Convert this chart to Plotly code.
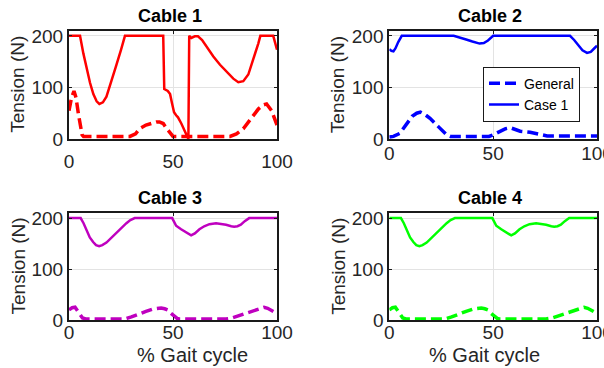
import plotly.graph_objects as go

# ---- data: cable tension (N) over % gait cycle ----
gait_ticks = [0, 50, 100]
tension_ticks = [0, 100, 200]

c1_case_x = [0, 5.3, 6.9, 8.5, 10.1, 11.7, 13.3, 14.6, 16.3, 18, 20, 22.5, 25, 26.9, 45.3, 45.8, 47.5,
             48.6, 49.5, 50.5, 51.5, 52.4, 54, 56, 57.4, 57.8, 58.8, 60.5, 62, 64, 66.2, 69.4, 72.6,
             75.8, 79, 81.4, 83.8, 86.2, 88.6, 91, 92, 98.2, 100]
c1_case_y = [200, 200, 166, 135, 109, 87, 73, 68, 71, 82, 106, 140, 173, 200, 200, 97, 93,
             87, 70, 52, 46, 42, 30, 12, 0, 200, 196, 199, 199, 192, 179, 160, 144,
             130, 117, 110, 112, 125, 154, 185, 200, 200, 173]
c1_gen_x = [0, 1.2, 2.4, 3.4, 4.5, 5.5, 6.3, 7, 29.3, 32, 34, 37, 40, 42, 43.5, 45.3, 47, 48.5, 50,
            77.4, 80.5, 83.8, 86, 88.6, 91, 93.4, 95, 97.4, 99, 100]
c1_gen_y = [55, 80, 93, 80, 49, 22, 8, 5, 5, 10, 20, 27, 31, 33, 33, 30, 20, 11, 5,
            5, 10, 20, 31, 46, 58, 66, 68, 55, 40, 27]

c2_case_x = [0, 1, 2, 3, 4.3, 6, 31, 34, 37, 40, 43.5, 45.5, 47.5, 50, 87, 89, 91, 93, 95.2, 97, 98.5, 100]
c2_case_y = [174, 171, 170, 176, 188, 200, 200, 197, 193, 189, 185, 186, 191, 200, 200, 192, 181, 172, 167, 169, 175, 181]
c2_gen_x = [0, 2, 5.1, 8.4, 11, 13.2, 15, 17, 19.6, 23.6, 27.7, 29.5, 48, 50.5, 53.4, 56, 58.2, 60.5,
            63, 67.8, 71, 74.3, 76, 100]
c2_gen_y = [4, 5, 11, 30, 44, 50, 52, 48, 40, 24, 8, 5, 5, 9, 15, 20, 22, 19,
            15, 13, 10, 7, 6, 6]

c3_case_x = [0, 5.6, 7, 8.5, 10, 11.6, 13, 14.5, 16, 18, 20.5, 22.8, 25, 27.6, 29.5, 31.6, 49.6, 50.5,
             51.5, 53.9, 56, 57.9, 58.7, 60.5, 62.7, 65, 67.5, 70.7, 73, 75.5, 78, 79.4, 81, 82.6,
             84.5, 86.6, 100]
c3_case_y = [200, 200, 190, 174, 162, 153, 147, 145, 147, 152, 162, 172, 181, 190, 196, 200, 200, 192,
             185, 178, 172, 167, 166, 170, 178, 184, 188, 190, 189, 187, 184, 183, 184, 187,
             194, 200, 200]
c3_gen_x = [0, 1.5, 2.9, 4.5, 5.5, 6.5, 8, 26.8, 30, 34, 37, 40.3, 44.3, 46, 47.5, 49, 50.7, 52, 53,
            75.5, 78.5, 81.8, 85, 88.2, 91, 93.8, 95.5, 97, 98.5, 100]
c3_gen_y = [20, 24, 25, 15, 8, 4, 2, 2, 6, 13, 17, 21.5, 23.5, 22, 19.6, 13, 6.5, 3, 2,
            2, 4, 8.5, 13, 18, 22, 25, 23, 19.6, 16, 13]

c4_case_x = list(c3_case_x)
c4_case_y = [200, 200, 190, 174, 162, 153, 147, 145, 147, 152, 162, 172, 181, 190, 196, 200, 200, 192,
             185, 178, 172, 167, 166, 170, 178, 184, 188, 190, 189, 187, 184, 183, 184, 187,
             194, 200, 200]
c4_gen_x = list(c3_gen_x)
c4_gen_y = [20, 24, 25, 15, 8, 4, 2, 2, 6, 13, 17, 21.5, 23.5, 22, 19.6, 13, 6.5, 3, 2,
            2, 4, 8.5, 13, 18, 22, 25, 23, 19.6, 16, 13]

cables = [
    ("Cable 1", "#FF0000", c1_gen_x, c1_gen_y, c1_case_x, c1_case_y),
    ("Cable 2", "#0000FF", c2_gen_x, c2_gen_y, c2_case_x, c2_case_y),
    ("Cable 3", "#BF00BF", c3_gen_x, c3_gen_y, c3_case_x, c3_case_y),
    ("Cable 4", "#00FF00", c4_gen_x, c4_gen_y, c4_case_x, c4_case_y),
]

W, H = 604, 368
FONT = "Liberation Sans, Arial, sans-serif"
INK = "#262626"

# plot-area boxes in pixels (left, right, top, bottom) and x tick-label standoff
boxes = [(69, 277, 30.7, 139), (389.3, 597, 30.7, 139),
         (69, 277, 213, 320), (389.3, 597, 213, 320)]
x_standoff = [4, -4, -6, -6]

fig = go.Figure()
layout = dict(template="none", width=W, height=H, margin=dict(l=0, r=0, t=0, b=0, pad=0),
              paper_bgcolor="white", plot_bgcolor="white",
              font=dict(family=FONT, color=INK), annotations=[])

for i, (name, color, gx, gy, cx, cy) in enumerate(cables):
    n = "" if i == 0 else str(i + 1)
    xa, ya = "x" + n, "y" + n
    fig.add_trace(go.Scatter(x=gx, y=gy, mode="lines", name="General",
                             line=dict(color=color, width=3.5, dash="11px,5px"),
                             xaxis=xa, yaxis=ya, showlegend=(i == 1)))
    fig.add_trace(go.Scatter(x=cx, y=cy, mode="lines", name="Case 1",
                             line=dict(color=color, width=2.5),
                             xaxis=xa, yaxis=ya, showlegend=(i == 1)))
    l, r, t, b = boxes[i]
    common = dict(showline=True, linecolor="#1a1a1a", linewidth=2, mirror="ticks",
                  ticks="inside", ticklen=3, tickcolor="#1a1a1a", automargin=False,
                  showgrid=True, gridcolor="#e3e3e3", gridwidth=1, zeroline=False,
                  ticklabeloverflow="allow",
                  tickfont=dict(size=19, color=INK, family=FONT))
    layout["xaxis" + n] = dict(domain=[l / W, r / W], range=[0, 100], tickvals=gait_ticks,
                               anchor=ya, ticklabelstandoff=x_standoff[i], **common)
    layout["yaxis" + n] = dict(domain=[1 - b / H, 1 - t / H], range=[0, 210],
                               tickvals=tension_ticks, anchor=xa, **common)
    # panel title
    layout["annotations"].append(dict(text="<b>%s</b>" % name, x=((l + r) / 2 - 3) / W,
                                      y=1 - (t - 15) / H, xref="paper", yref="paper",
                                      showarrow=False, xanchor="center", yanchor="middle",
                                      font=dict(size=18, color="black", family=FONT)))
    # y-axis title
    layout["annotations"].append(dict(text="Tension (N)", x=(l - 51) / W, y=1 - ((t + b) / 2) / H,
                                      xref="paper", yref="paper", showarrow=False, textangle=-90,
                                      xanchor="center", yanchor="middle",
                                      font=dict(size=19, color=INK, family=FONT)))

# x-axis titles under the bottom row
for cx_pix in (192, 484):
    layout["annotations"].append(dict(text="% Gait cycle", x=cx_pix / W, y=1 - 355 / H,
                                      xref="paper", yref="paper", showarrow=False,
                                      xanchor="center", yanchor="middle",
                                      font=dict(size=20, color=INK, family=FONT)))

layout["legend"] = dict(x=580 / W, y=1 - 66.7 / H, xanchor="right", yanchor="top",
                        bgcolor="white", bordercolor="#1a1a1a", borderwidth=1,
                        font=dict(size=14, color="black", family=FONT),
                        itemwidth=30, tracegroupgap=0)
fig.update_layout(**layout)
fig.write_html("out.html")
